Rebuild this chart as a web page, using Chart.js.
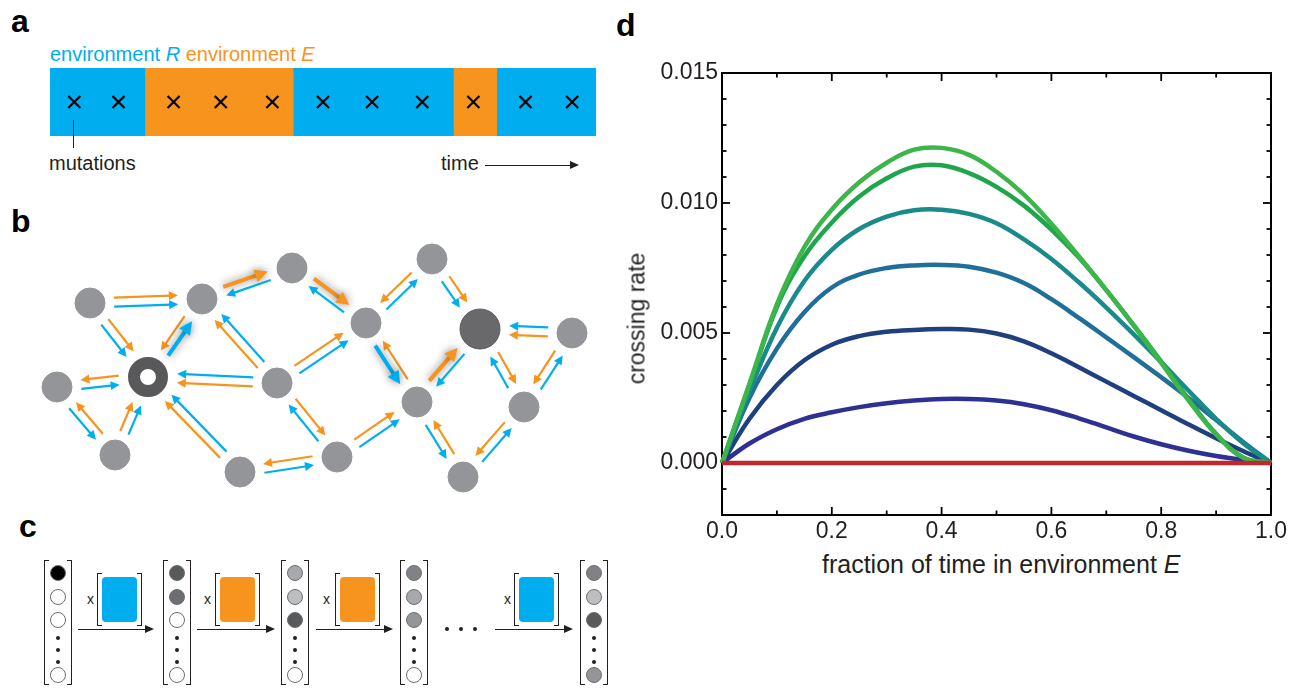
<!DOCTYPE html>
<html>
<head>
<meta charset="utf-8">
<script src="https://cdn.jsdelivr.net/npm/chart.js@4.4.1/dist/chart.umd.min.js"></script>
<style>
  html, body { margin: 0; padding: 0; background: #fff; overflow: hidden; }
  body { width: 1293px; height: 688px; position: relative; font-family: "Liberation Sans", Arial, Helvetica, sans-serif; color: #231f20; }
  .box { position: absolute; }
  .letter { position: absolute; font-weight: bold; font-size: 32px; line-height: 32px; color: #000; }
  .txt { position: absolute; white-space: nowrap; }
  /* panel c pieces */
  .vec { position: absolute; top: 560px; width: 28px; height: 125px; }
  .vec:before, .vec:after, .mat:before, .mat:after { content: ''; position: absolute; top: 0; bottom: 0; width: 4px; border: 1.5px solid #231f20; }
  .vec:before, .mat:before { left: 0; border-right: none; }
  .vec:after, .mat:after { right: 0; border-left: none; }
  .vec .c { position: absolute; left: 6px; width: 14px; height: 14px; border-radius: 50%; border: 1px solid #6d6e71; }
  .vec .d { position: absolute; left: 12px; width: 4px; height: 4px; border-radius: 50%; background: #231f20; }
  .mat { position: absolute; top: 573px; width: 45px; height: 53px; }
  .mat .m { position: absolute; left: 5px; top: 4px; width: 35px; height: 45px; border-radius: 4px; }
  .mx { position: absolute; top: 591px; font-size: 14px; line-height: 16px; }
  .arr { position: absolute; height: 0; border-top: 1.5px solid #231f20; }
  .arr:after { content: ''; position: absolute; right: -2px; top: -5.5px; border-left: 9px solid #231f20; border-top: 4.5px solid transparent; border-bottom: 4.5px solid transparent; }
  .dot { position: absolute; width: 4px; height: 4px; border-radius: 50%; background: #231f20; }
</style>
</head>
<body>

<!-- panel letters -->
<div class="letter" style="left:11px; top:5px;">a</div>
<div class="letter" style="left:11px; top:205px;">b</div>
<div class="letter" style="left:19px; top:510px;">c</div>
<div class="letter" style="left:616px; top:9px;">d</div>

<!-- panel a -->
<div class="txt" style="left:50px; top:44px; font-size:20px; line-height:20px;">
  <span style="color:#00aeef;">environment <i>R</i></span>
  <span style="color:#f7941d;">environment <i>E</i></span>
</div>
<div class="box" style="left:50px; top:68px; width:546px; height:68px;"><canvas id="envChart"></canvas></div>
<div class="box" style="left:73px; top:120px; height:28px; border-left:1.2px solid #231f20;"></div>
<div class="txt" style="left:49px; top:153px; font-size:20px; line-height:20px;">mutations</div>
<div class="txt" style="left:441px; top:153px; font-size:20px; line-height:20px;">time</div>
<div class="arr" style="left:485px; top:165px; width:92px;"></div>

<!-- panel b -->
<div class="box" style="left:0px; top:215px; width:620px; height:290px;"><canvas id="netChart"></canvas></div>

<!-- panel c -->
<div class="vec" style="left:44px;">
  <div class="c" style="top:5px; background:#000;"></div>
  <div class="c" style="top:29px; background:#fff;"></div>
  <div class="c" style="top:52px; background:#fff;"></div>
  <div class="d" style="top:76px;"></div><div class="d" style="top:88px;"></div><div class="d" style="top:100px;"></div>
  <div class="c" style="top:107px; background:#fff;"></div>
</div>
<div class="mx" style="left:87px;">x</div>
<div class="mat" style="left:97px;"><div class="m" style="background:#00aeef;"></div></div>
<div class="arr" style="left:78px; top:629px; width:74px;"></div>

<div class="vec" style="left:163px;">
  <div class="c" style="top:5px; background:#58595b;"></div>
  <div class="c" style="top:29px; background:#6d6e71;"></div>
  <div class="c" style="top:52px; background:#fff;"></div>
  <div class="d" style="top:76px;"></div><div class="d" style="top:88px;"></div><div class="d" style="top:100px;"></div>
  <div class="c" style="top:107px; background:#fff;"></div>
</div>
<div class="mx" style="left:204px;">x</div>
<div class="mat" style="left:215px;"><div class="m" style="background:#f7941d;"></div></div>
<div class="arr" style="left:197px; top:629px; width:76px;"></div>

<div class="vec" style="left:281px;">
  <div class="c" style="top:5px; background:#a7a9ac;"></div>
  <div class="c" style="top:29px; background:#bcbec0;"></div>
  <div class="c" style="top:52px; background:#58595b;"></div>
  <div class="d" style="top:76px;"></div><div class="d" style="top:88px;"></div><div class="d" style="top:100px;"></div>
  <div class="c" style="top:107px; background:#fff;"></div>
</div>
<div class="mx" style="left:323px;">x</div>
<div class="mat" style="left:335px;"><div class="m" style="background:#f7941d;"></div></div>
<div class="arr" style="left:316px; top:629px; width:75px;"></div>

<div class="vec" style="left:400px;">
  <div class="c" style="top:5px; background:#808285;"></div>
  <div class="c" style="top:29px; background:#a7a9ac;"></div>
  <div class="c" style="top:52px; background:#939598;"></div>
  <div class="d" style="top:76px;"></div><div class="d" style="top:88px;"></div><div class="d" style="top:100px;"></div>
  <div class="c" style="top:107px; background:#fff;"></div>
</div>
<div class="dot" style="left:445px; top:627px;"></div>
<div class="dot" style="left:459px; top:627px;"></div>
<div class="dot" style="left:473px; top:627px;"></div>
<div class="mx" style="left:504px;">x</div>
<div class="mat" style="left:514px;"><div class="m" style="background:#00aeef;"></div></div>
<div class="arr" style="left:495px; top:629px; width:76px;"></div>

<div class="vec" style="left:580px;">
  <div class="c" style="top:5px; background:#808285;"></div>
  <div class="c" style="top:29px; background:#bcbec0;"></div>
  <div class="c" style="top:52px; background:#58595b;"></div>
  <div class="d" style="top:76px;"></div><div class="d" style="top:88px;"></div><div class="d" style="top:100px;"></div>
  <div class="c" style="top:107px; background:#939598;"></div>
</div>

<!-- panel d -->
<div class="box" style="left:630px; top:50px; width:663px; height:490px;"><canvas id="rateChart"></canvas></div>
<div class="txt" style="left:537px; top:307px; width:200px; height:23px; font-size:23px; line-height:23px; text-align:center; transform:rotate(-90deg);">crossing rate</div>
<div class="txt" style="left:822px; top:552px; font-size:25px; line-height:25px;">fraction of time in environment <i>E</i></div>

<script>
// ---------- panel d: crossing rate vs fraction of time in E ----------
const fracE = [0, 0.05, 0.10, 0.15, 0.20, 0.25, 0.30, 0.35, 0.40, 0.45, 0.50,
               0.55, 0.60, 0.65, 0.70, 0.75, 0.80, 0.85, 0.90, 0.95, 1.00];
const rateGreen1 = [0, 0.00305, 0.0061, 0.0083, 0.00975, 0.0108, 0.01155, 0.01205, 0.01212, 0.01185, 0.0112,
                    0.01032, 0.0092, 0.00795, 0.00665, 0.00528, 0.00385, 0.0024, 0.0011, 0.0002, 0];
const rateGreen2 = [0, 0.0030, 0.0060, 0.00795, 0.00925, 0.01025, 0.01095, 0.0114, 0.01145, 0.01115, 0.01062,
                    0.0099, 0.00898, 0.0079, 0.00665, 0.0053, 0.0039, 0.00245, 0.00112, 0.0002, 0];
const rateTeal = [0, 0.00275, 0.0052, 0.0070, 0.0082, 0.0090, 0.00948, 0.00972, 0.00974, 0.00958, 0.00922,
                  0.0086, 0.00785, 0.00695, 0.00598, 0.00495, 0.00388, 0.00278, 0.0017, 0.00075, 0];
const rateSteel = [0, 0.0025, 0.0044, 0.0058, 0.00675, 0.00725, 0.0075, 0.0076, 0.00762, 0.00755, 0.00732,
                   0.00692, 0.0063, 0.00558, 0.00483, 0.00407, 0.0033, 0.0025, 0.00165, 0.0008, 0];
const rateNavy = [0, 0.0017, 0.0030, 0.00395, 0.00455, 0.00488, 0.00505, 0.00512, 0.00515, 0.00513, 0.00498,
                  0.00468, 0.00422, 0.00368, 0.00313, 0.00258, 0.00203, 0.00148, 0.00095, 0.00045, 0];
const rateIndigo = [0, 0.00075, 0.0013, 0.0017, 0.00195, 0.00215, 0.0023, 0.0024, 0.00246, 0.00246, 0.0024,
                    0.00226, 0.00203, 0.00172, 0.00137, 0.00102, 0.00072, 0.00047, 0.00027, 0.00012, 0];
const rateRed = [0, 0, 0, 0, 0, 0, 0, 0, 0, 0, 0, 0, 0, 0, 0, 0, 0, 0, 0, 0, 0];

const xTickVals = [0, 0.2, 0.4, 0.6, 0.8, 1.0];
const yTickVals = [0, 0.005, 0.010, 0.015];

// ---------- panel a: environment sequence ----------
const envStart = [0, 1.91, 4.9, 8.13, 9.0];
const envEnd = [1.91, 4.9, 8.13, 9.0, 11];
const envKind = ['R', 'E', 'R', 'E', 'R'];
const mutationTimes = [0.49, 1.38, 2.49, 3.44, 4.48, 5.5, 6.49, 7.5, 8.53, 9.58, 10.52];

// ---------- panel b: genotype network ----------
const nodeX = [90, 202, 292, 432, 366, 480, 572, 57, 148, 277, 417, 524, 115, 240, 337, 463];
const nodeY = [303, 299, 268, 259, 323, 329, 333, 387, 377, 383, 402, 407, 455, 472, 457, 477];
const nodeKind = ['n', 'n', 'n', 'n', 'n', 'goal', 'n', 'n', 'start', 'n', 'n', 'n', 'n', 'n', 'n', 'n'];
// [from, to, orange dir, blue dir, orange side, highlighted arrow]
const edges = [
  [0, 1, 1, 1, -1, ''], [0, 8, 1, 1, -1, ''], [1, 8, 1, -1, 1, 'b'], [1, 2, 1, -1, -1, 'o'],
  [2, 4, 1, -1, -1, 'o'], [9, 1, 1, 1, -1, ''], [8, 7, 1, -1, 1, ''], [9, 8, 1, 1, -1, ''],
  [7, 12, -1, 1, -1, ''], [12, 8, 1, 1, -1, ''], [13, 8, 1, 1, -1, ''], [9, 4, 1, 1, -1, ''],
  [9, 14, 1, -1, -1, ''], [13, 14, -1, 1, -1, ''], [4, 3, -1, 1, -1, ''], [3, 5, 1, 1, -1, ''],
  [4, 10, -1, 1, -1, 'b'], [10, 5, 1, -1, -1, 'o'], [6, 5, 1, 1, -1, ''], [5, 11, 1, -1, -1, ''],
  [6, 11, 1, -1, 1, ''], [14, 10, 1, 1, -1, ''], [10, 15, -1, 1, -1, ''], [11, 15, 1, -1, 1, '']
];

const BLUE = '#00aeef';
const ORANGE = '#f7941d';
const FONT = '"Liberation Sans", Arial, Helvetica, sans-serif';

Chart.defaults.font.family = FONT;
Chart.defaults.color = '#231f20';
Chart.defaults.animation = false;

// --- panel d ---
const toPts = arr => fracE.map((x, i) => ({ x: x, y: arr[i] }));
const curve = (label, arr, color, order) => ({
  label: label, data: toPts(arr), borderColor: color, backgroundColor: color,
  borderWidth: 4.5, pointRadius: 0, tension: 0.4, order: order, clip: false
});

const framePlugin = {
  id: 'frame',
  beforeDatasetsDraw(chart) {
    const { ctx, chartArea: a, scales: { x, y } } = chart;
    ctx.save();
    ctx.strokeStyle = '#000';
    ctx.lineWidth = 2;
    ctx.strokeRect(a.left, a.top, a.right - a.left, a.bottom - a.top);
    ctx.lineWidth = 1.8;
    const seg = (x1, y1, x2, y2) => { ctx.beginPath(); ctx.moveTo(x1, y1); ctx.lineTo(x2, y2); ctx.stroke(); };
    for (let i = 0; i <= 10; i++) {
      const v = i / 10, p = x.getPixelForValue(v), len = i % 2 === 0 ? 8 : 4.5;
      seg(p, a.bottom, p, a.bottom - len);
      seg(p, a.top, p, a.top + len);
    }
    for (let i = -2; i <= 15; i++) {
      const v = i / 1000, p = y.getPixelForValue(v), len = i % 5 === 0 ? 8 : 4.5;
      seg(a.left, p, a.left + len, p);
      seg(a.right, p, a.right - len, p);
    }
    ctx.restore();
  }
};

new Chart(document.getElementById('rateChart'), {
  type: 'line',
  data: {
    datasets: [
      curve('red', rateRed, '#c1272d', 0),
      curve('green 1', rateGreen1, '#3cb64a', 1),
      curve('green 2', rateGreen2, '#1fa64d', 2),
      curve('teal', rateTeal, '#1a8a8a', 3),
      curve('steel', rateSteel, '#1f6f99', 4),
      curve('navy', rateNavy, '#1f3f7e', 5),
      curve('indigo', rateIndigo, '#2d3192', 6)
    ]
  },
  options: {
    responsive: true,
    maintainAspectRatio: false,
    events: [],
    layout: { autoPadding: false, padding: { top: 23, right: 22, left: 0, bottom: 0 } },
    plugins: { legend: { display: false }, tooltip: { enabled: false } },
    scales: {
      x: {
        type: 'linear', min: 0, max: 1,
        grid: { display: false, drawTicks: false },
        border: { display: false },
        afterBuildTicks: s => { s.ticks = xTickVals.map(v => ({ value: v })); },
        afterFit: s => { s.height = 25; },
        ticks: { autoSkip: false, maxRotation: 0, padding: 3, font: { size: 23 }, callback: v => v.toFixed(1) }
      },
      y: {
        type: 'linear', min: -0.002, max: 0.015,
        grid: { display: false, drawTicks: false },
        border: { display: false },
        afterBuildTicks: s => { s.ticks = yTickVals.map(v => ({ value: v })); },
        afterFit: s => { s.width = 92; },
        ticks: { autoSkip: false, padding: 4, font: { size: 23 }, callback: v => v.toFixed(3) }
      }
    }
  },
  plugins: [framePlugin]
});

// --- panel a ---
const envColor = { R: BLUE, E: ORANGE };
new Chart(document.getElementById('envChart'), {
  type: 'bar',
  data: {
    labels: ['time'],
    datasets: envStart.map((s, i) => ({
      type: 'bar', data: [[s, envEnd[i]]], backgroundColor: envColor[envKind[i]],
      borderWidth: 0, grouped: false, barPercentage: 1, categoryPercentage: 1, order: 1
    })).concat([{
      type: 'line', label: 'mutations', data: mutationTimes.map(t => ({ x: t, y: 'time' })),
      showLine: false, pointStyle: 'crossRot', pointRadius: 8.5, borderColor: '#000',
      borderWidth: 2.2, order: 0, clip: false
    }])
  },
  options: {
    indexAxis: 'y',
    responsive: true,
    maintainAspectRatio: false,
    events: [],
    layout: { autoPadding: false, padding: 0 },
    plugins: { legend: { display: false }, tooltip: { enabled: false } },
    scales: {
      x: { type: 'linear', min: 0, max: 11, display: false },
      y: { type: 'category', display: false }
    }
  }
});

// --- panel b ---
const nodeRadius = k => (k === 'n' ? 15 : 20);

function drawArrow(ctx, x1, y1, x2, y2, color, bold) {
  const dx = x2 - x1, dy = y2 - y1, len = Math.hypot(dx, dy);
  const ux = dx / len, uy = dy / len;
  const head = bold ? 13 : 9, half = bold ? 6.5 : 4.5;
  ctx.save();
  if (bold) { ctx.shadowColor = 'rgba(40,40,40,0.6)'; ctx.shadowBlur = 8; }
  ctx.strokeStyle = color;
  ctx.fillStyle = color;
  ctx.lineWidth = bold ? 4 : 2.2;
  ctx.beginPath();
  ctx.moveTo(x1, y1);
  ctx.lineTo(x2 - ux * head * 0.8, y2 - uy * head * 0.8);
  ctx.stroke();
  ctx.beginPath();
  ctx.moveTo(x2, y2);
  ctx.lineTo(x2 - ux * head - uy * half, y2 - uy * head + ux * half);
  ctx.lineTo(x2 - ux * head + uy * half, y2 - uy * head - ux * half);
  ctx.closePath();
  ctx.fill();
  ctx.restore();
}

const arrowPlugin = {
  id: 'arrows',
  beforeDatasetsDraw(chart) {
    const { ctx, scales: { x, y } } = chart;
    edges.forEach(([a, b, oDir, bDir, side, hl]) => {
      const ax = x.getPixelForValue(nodeX[a]), ay = y.getPixelForValue(nodeY[a]);
      const bx = x.getPixelForValue(nodeX[b]), by = y.getPixelForValue(nodeY[b]);
      const len = Math.hypot(bx - ax, by - ay);
      const ux = (bx - ax) / len, uy = (by - ay) / len;
      const nx = -uy, ny = ux;
      const ga = nodeRadius(nodeKind[a]) + 9, gb = nodeRadius(nodeKind[b]) + 9;
      const sx = ax + ux * ga, sy = ay + uy * ga, ex = bx - ux * gb, ey = by - uy * gb;
      [[ORANGE, oDir, side, hl === 'o'], [BLUE, bDir, -side, hl === 'b']].forEach(([col, dir, sd, bold]) => {
        const ox = nx * sd * 4.5, oy = ny * sd * 4.5;
        if (dir > 0) drawArrow(ctx, sx + ox, sy + oy, ex + ox, ey + oy, col, bold);
        else drawArrow(ctx, ex + ox, ey + oy, sx + ox, sy + oy, col, bold);
      });
    });
  }
};

new Chart(document.getElementById('netChart'), {
  type: 'scatter',
  data: {
    datasets: [{
      label: 'genotypes',
      data: nodeX.map((x, i) => ({ x: x, y: nodeY[i] })),
      pointRadius: nodeKind.map(k => (k === 'start' ? 14 : nodeRadius(k))),
      pointBackgroundColor: nodeKind.map(k => (k === 'start' ? '#ffffff' : k === 'goal' ? '#69696c' : '#939598')),
      pointBorderColor: nodeKind.map(k => (k === 'start' ? '#59595c' : k === 'goal' ? '#5e5e61' : '#939598')),
      pointBorderWidth: nodeKind.map(k => (k === 'start' ? 12 : 1)),
      clip: false
    }]
  },
  options: {
    responsive: true,
    maintainAspectRatio: false,
    events: [],
    layout: { autoPadding: false, padding: 0 },
    plugins: { legend: { display: false }, tooltip: { enabled: false } },
    scales: {
      x: { type: 'linear', min: 0, max: 620, display: false },
      y: { type: 'linear', min: 215, max: 505, reverse: true, display: false }
    }
  },
  plugins: [arrowPlugin]
});
</script>
</body>
</html>
